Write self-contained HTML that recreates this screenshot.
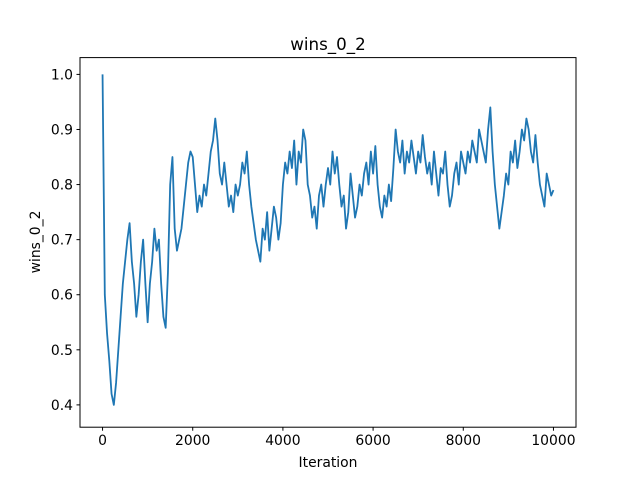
<!DOCTYPE html>
<html><head><meta charset="utf-8"><style>
body{margin:0;background:#fff;}
svg text{font-family:"DejaVu Sans","Liberation Sans",sans-serif;fill:#000;}
</style></head><body>
<svg id="chart" width="640" height="480" xmlns="http://www.w3.org/2000/svg">
<rect width="640" height="480" fill="#fff"/>
<text x="328" y="50" font-size="16.7" text-anchor="middle">wins_0_2</text>
<g id="plot"></g>
<rect x="80" y="57.6" width="496" height="369.6" fill="none" stroke="#000" stroke-width="1"/>
<g id="xt"></g><g id="yt"></g>
<text x="328" y="467" font-size="13.9" text-anchor="middle">Iteration</text>
<text transform="translate(40,242) rotate(-90)" font-size="13.9" text-anchor="middle">wins_0_2</text>
</svg>
<script>
const xTicks=[0,2000,4000,6000,8000,10000];
const xTickLabels=["0","2000","4000","6000","8000","10000"];
const yTicks=[0.4,0.5,0.6,0.7,0.8,0.9,1.0];
const yTickLabels=["0.4","0.5","0.6","0.7","0.8","0.9","1.0"];
const step=50;
const wins=[1.0,0.6,0.53,0.48,0.42,0.4,0.44,0.5,0.56,0.62,0.66,0.7,0.73,0.66,0.62,0.56,0.6,0.66,0.7,0.62,
0.55,0.62,0.66,0.72,0.68,0.7,0.62,0.56,0.54,0.64,0.8,0.85,0.72,0.68,0.7,0.72,0.76,0.8,0.84,0.86,
0.85,0.8,0.75,0.78,0.76,0.8,0.78,0.82,0.86,0.88,0.92,0.88,0.82,0.8,0.84,0.8,0.76,0.78,0.75,0.8,
0.78,0.8,0.84,0.82,0.86,0.8,0.76,0.73,0.7,0.68,0.66,0.72,0.7,0.75,0.68,0.72,0.76,0.74,0.7,0.73,
0.8,0.84,0.82,0.86,0.83,0.88,0.8,0.86,0.84,0.9,0.88,0.8,0.78,0.74,0.76,0.72,0.78,0.8,0.76,0.8,
0.83,0.8,0.86,0.82,0.85,0.8,0.76,0.78,0.72,0.75,0.82,0.78,0.74,0.76,0.8,0.78,0.82,0.84,0.8,0.86,
0.82,0.87,0.8,0.76,0.74,0.78,0.76,0.8,0.77,0.83,0.9,0.86,0.84,0.88,0.82,0.86,0.84,0.88,0.85,0.82,
0.86,0.84,0.89,0.85,0.82,0.84,0.8,0.86,0.82,0.78,0.83,0.82,0.86,0.8,0.76,0.78,0.82,0.84,0.8,0.86,
0.84,0.82,0.86,0.84,0.88,0.86,0.84,0.9,0.88,0.86,0.84,0.9,0.94,0.86,0.8,0.76,0.72,0.75,0.78,0.82,
0.8,0.86,0.84,0.88,0.83,0.86,0.9,0.88,0.92,0.9,0.86,0.84,0.89,0.84,0.8,0.78,0.76,0.82,0.8,0.78,
0.79];
const NS="http://www.w3.org/2000/svg";
const X0=80,X1=576,Y0=427.2,Y1=57.6;
const xmin=-500,xmax=10500,ymin=0.3595,ymax=1.0305;
const sx=v=>X0+(v-xmin)/(xmax-xmin)*(X1-X0);
const sy=v=>Y0-(v-ymin)/(ymax-ymin)*(Y0-Y1);
const plot=document.getElementById('plot');
let d="";
wins.forEach((v,i)=>{d+=(i?"L":"M")+sx(i*step).toFixed(2)+","+sy(v).toFixed(2);});
const p=document.createElementNS(NS,'path');
p.setAttribute('d',d);p.setAttribute('fill','none');p.setAttribute('stroke','#1f77b4');
p.setAttribute('stroke-width','1.8');p.setAttribute('stroke-linejoin','round');


plot.appendChild(p);
const xt=document.getElementById('xt');
xTicks.forEach((t,i)=>{
 const l=document.createElementNS(NS,'line');
 l.setAttribute('x1',sx(t));l.setAttribute('x2',sx(t));l.setAttribute('y1',Y0);l.setAttribute('y2',Y0+3.5);l.setAttribute('stroke','#000');
 
 
 xt.appendChild(l);
 const tx=document.createElementNS(NS,'text');
 tx.setAttribute('x',sx(t));tx.setAttribute('y',Y0+18);tx.setAttribute('font-size','13.9');tx.setAttribute('text-anchor','middle');
 tx.textContent=xTickLabels[i];
 
 
 xt.appendChild(tx);
});
const yt=document.getElementById('yt');
yTicks.forEach((t,i)=>{
 const l=document.createElementNS(NS,'line');
 l.setAttribute('x1',X0-3.5);l.setAttribute('x2',X0);l.setAttribute('y1',sy(t));l.setAttribute('y2',sy(t));l.setAttribute('stroke','#000');
 
 
 yt.appendChild(l);
 const tx=document.createElementNS(NS,'text');
 tx.setAttribute('x',X0-7);tx.setAttribute('y',sy(t)+5);tx.setAttribute('font-size','13.9');tx.setAttribute('text-anchor','end');
 tx.textContent=yTickLabels[i];
 
 
 yt.appendChild(tx);
});
</script>
</body></html>
